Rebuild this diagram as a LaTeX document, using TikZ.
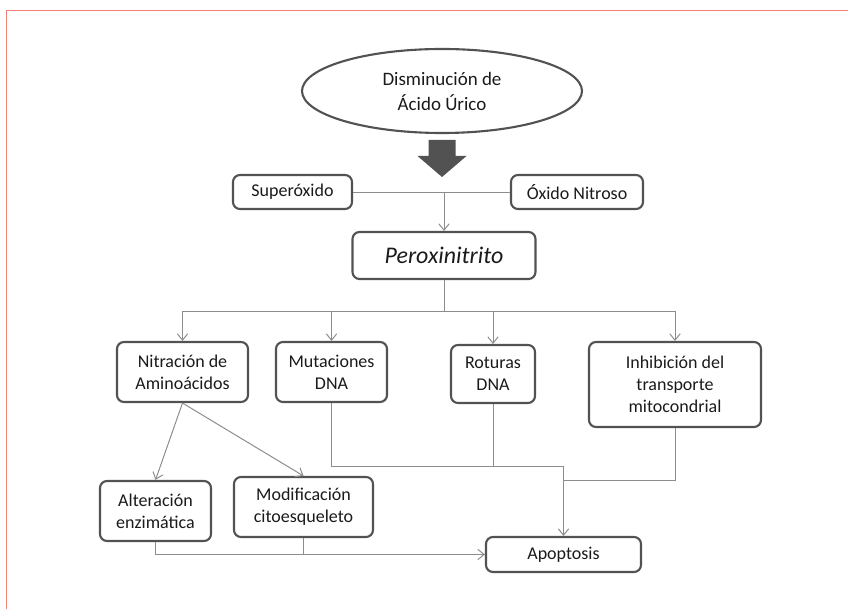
\documentclass[tikz,border=0pt]{standalone}
\usepackage{fontspec}
\setmainfont{Carlito}
\usetikzlibrary{arrows.meta, positioning, calc, shapes.geometric}

\definecolor{boxgray}{HTML}{525252}
\definecolor{linegray}{HTML}{8C8C8C}
\definecolor{framered}{HTML}{F08078}
\definecolor{txtgray}{HTML}{1A1A1A}

\begin{document}
\begin{tikzpicture}[
    every node/.style={draw=boxgray, line width=1.5pt, rounded corners=5pt, align=center, inner sep=2pt, text=txtgray, font=\fontsize{12.8}{15.6}\selectfont},
    >={Straight Barb[length=1.6mm, width=2.6mm]},
    link/.style={draw=linegray, line width=0.7pt}
]
\useasboundingbox (0,0) rectangle (21.2,-15.225);
\draw[framered, line width=1.1pt] (0.1625,-15.225) |- (21.2,-0.2625);

\node (dismin)  at (11.05, -2.275)   [ellipse, sharp corners, minimum width=7cm, minimum height=2.1cm, font=\fontsize{13.5}{17.8}\selectfont] {Disminución de\\Ácido Úrico};
\node (super)   at (7.3125, -4.8)    [minimum width=2.975cm, minimum height=0.85cm] {Superóxido};
\node (oxido)   at (14.425, -4.8)    [minimum width=3.3cm, minimum height=0.85cm]   {Óxido Nitroso};
\node (perox)   at (11.1, -6.3875)   [minimum width=4.575cm, minimum height=1.175cm, font=\fontsize{17}{20}\selectfont\itshape] {Peroxinitrito};
\node (nitra)   at (4.5625, -9.3)    [minimum width=3.275cm, minimum height=1.5cm]  {Nitración de\\Aminoácidos};
\node (muta)    at (8.2875, -9.3)    [minimum width=2.775cm, minimum height=1.5cm]  {Mutaciones\\DNA};
\node (rotu)    at (12.325, -9.35)   [minimum width=2.1cm, minimum height=1.45cm]   {Roturas\\DNA};
\node (inhib)   at (16.875, -9.6125) [minimum width=4.3cm, minimum height=2.125cm]  {Inhibición del\\transporte\\mitocondrial};
\node (alter)   at (3.8875, -12.775) [minimum width=2.775cm, minimum height=1.5cm]  {Alteración\\enzimática};
\node (modif)   at (7.5875, -12.675) [minimum width=3.475cm, minimum height=1.5cm]  {Modificación\\citoesqueleto};
\node (apop)    at (14.0875, -13.8625) [minimum width=3.875cm, minimum height=0.875cm] {Apoptosis};

% big arrow under the ellipse
\coordinate (bigtip) at (11.05, -4.425);
\fill[boxgray] (bigtip) -- ++(-0.6125,0.525) -- ++(0.275,0) -- ++(0,0.4) -- ++(0.675,0) -- ++(0,-0.4) -- ++(0.275,0) -- cycle;

\draw[link, ->] (super.east) -| (perox.north);
\draw[link] (oxido.west) -- (oxido.west -| perox.north);

\coordinate (branch) at ($(perox.south)+(0,-0.775)$);
\draw[link] (perox.south) -- (branch);
\draw[link, ->] (branch) -| (nitra.north);
\draw[link, ->] (branch) -| (muta.north);
\draw[link, ->] (branch) -| (rotu.north);
\draw[link, ->] (branch) -| (inhib.north);

\draw[link, ->] (nitra.south) -- (alter.north);
\draw[link, ->] (nitra.south) -- (modif.north);

\coordinate (merge)  at ($(apop.north)+(0,1.725)$);
\coordinate (merge2) at ($(apop.north)+(0,1.375)$);
\draw[link, ->] (muta.south) |- (merge) -- (apop.north);
\draw[link] (rotu.south) |- (merge);
\draw[link] (inhib.south) |- (merge2);
\draw[link, ->] (alter.south) |- (apop.west);
\draw[link] (modif.south) |- (apop.west);
\end{tikzpicture}
\end{document}
